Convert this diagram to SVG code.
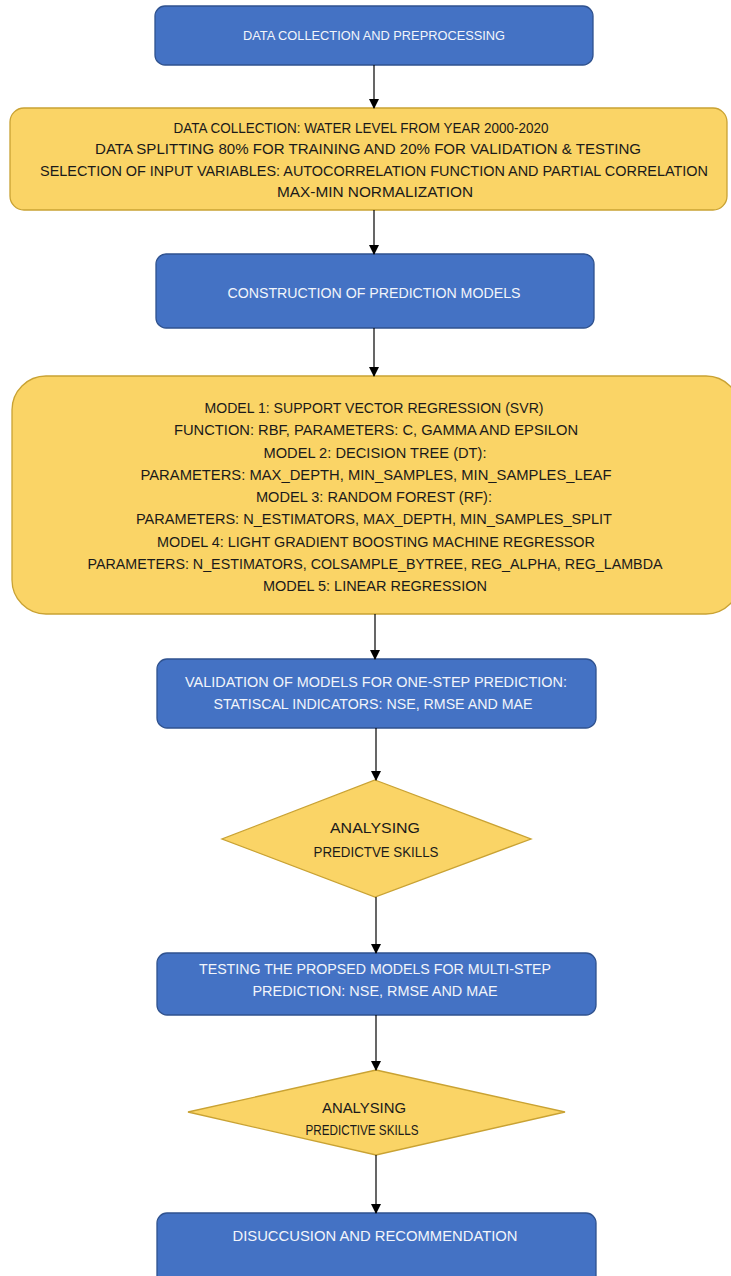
<svg xmlns="http://www.w3.org/2000/svg" width="731" height="1276" viewBox="0 0 731 1276">
<defs>
<marker id="ah" markerWidth="10" markerHeight="10" refX="9" refY="5" orient="auto" markerUnits="userSpaceOnUse">
<path d="M0,0 L10,5 L0,10 Z" fill="#000"/>
</marker>
<style>
.blue{fill:#4472C4;stroke:#2F528F;stroke-width:1.3}
.yel{fill:#FAD466;stroke:#C9A233;stroke-width:1.3}
.tw{font-family:"Liberation Sans",Arial,sans-serif;fill:#F2F5FB;text-anchor:middle;dominant-baseline:central}
.tb{font-family:"Liberation Sans",Arial,sans-serif;fill:#1a1a1a;text-anchor:middle;dominant-baseline:central}
.conn line{stroke:#000;stroke-width:1.2;marker-end:url(#ah)}
</style>
</defs>
<rect width="731" height="1276" fill="#fff"/>

<g id="n1">
<rect class="blue" x="155" y="6" width="438" height="59" rx="10"/>
<text class="tw" x="374" y="36" font-size="12.5" textLength="262" lengthAdjust="spacingAndGlyphs">DATA COLLECTION AND PREPROCESSING</text>
</g>

<g id="n2">
<rect class="yel" x="10" y="108" width="717" height="102" rx="14"/>
<text class="tb" x="361" y="128" font-size="14.5" textLength="375" lengthAdjust="spacingAndGlyphs">DATA COLLECTION: WATER LEVEL FROM YEAR 2000-2020</text>
<text class="tb" x="368" y="149" font-size="14.5" textLength="546" lengthAdjust="spacingAndGlyphs">DATA SPLITTING 80% FOR TRAINING AND 20% FOR VALIDATION &amp; TESTING</text>
<text class="tb" x="374" y="171" font-size="14.5" textLength="668" lengthAdjust="spacingAndGlyphs">SELECTION OF INPUT VARIABLES: AUTOCORRELATION FUNCTION AND PARTIAL CORRELATION</text>
<text class="tb" x="375" y="192" font-size="14.5" textLength="196" lengthAdjust="spacingAndGlyphs">MAX-MIN NORMALIZATION</text>
</g>

<g id="n3">
<rect class="blue" x="156" y="254" width="438" height="74" rx="10"/>
<text class="tw" x="374" y="293" font-size="14" textLength="293" lengthAdjust="spacingAndGlyphs">CONSTRUCTION OF PREDICTION MODELS</text>
</g>

<g id="n4">
<rect class="yel" x="12" y="376" width="728" height="238" rx="34"/>
<text class="tb" x="374" y="408" font-size="14.5" textLength="339" lengthAdjust="spacingAndGlyphs">MODEL 1: SUPPORT VECTOR REGRESSION (SVR)</text>
<text class="tb" x="376" y="430" font-size="14.5" textLength="404" lengthAdjust="spacingAndGlyphs">FUNCTION: RBF, PARAMETERS: C, GAMMA AND EPSILON</text>
<text class="tb" x="375" y="453" font-size="14.5" textLength="223" lengthAdjust="spacingAndGlyphs">MODEL 2: DECISION TREE (DT):</text>
<text class="tb" x="376" y="475" font-size="14.5" textLength="471" lengthAdjust="spacingAndGlyphs">PARAMETERS: MAX_DEPTH, MIN_SAMPLES, MIN_SAMPLES_LEAF</text>
<text class="tb" x="374" y="497" font-size="14.5" textLength="236" lengthAdjust="spacingAndGlyphs">MODEL 3: RANDOM FOREST (RF):</text>
<text class="tb" x="374" y="519" font-size="14.5" textLength="476" lengthAdjust="spacingAndGlyphs">PARAMETERS: N_ESTIMATORS, MAX_DEPTH, MIN_SAMPLES_SPLIT</text>
<text class="tb" x="376" y="542" font-size="14.5" textLength="438" lengthAdjust="spacingAndGlyphs">MODEL 4: LIGHT GRADIENT BOOSTING MACHINE REGRESSOR</text>
<text class="tb" x="375" y="564" font-size="14.5" textLength="575" lengthAdjust="spacingAndGlyphs">PARAMETERS: N_ESTIMATORS, COLSAMPLE_BYTREE, REG_ALPHA, REG_LAMBDA</text>
<text class="tb" x="375" y="586" font-size="14.5" textLength="224" lengthAdjust="spacingAndGlyphs">MODEL 5: LINEAR REGRESSION</text>
</g>

<g id="n5">
<rect class="blue" x="157" y="659" width="439" height="69" rx="10"/>
<text class="tw" x="376" y="681" font-size="15" textLength="382" lengthAdjust="spacingAndGlyphs">VALIDATION OF MODELS FOR ONE-STEP PREDICTION:</text>
<text class="tw" x="373" y="703" font-size="15" textLength="319" lengthAdjust="spacingAndGlyphs">STATISCAL INDICATORS: NSE, RMSE AND MAE</text>
</g>

<g id="n6">
<polygon class="yel" points="375,780 531,839 375,897 222,839"/>
<text class="tb" x="375" y="827" font-size="15" textLength="90" lengthAdjust="spacingAndGlyphs">ANALYSING</text>
<text class="tb" x="376" y="851" font-size="15" textLength="125" lengthAdjust="spacingAndGlyphs">PREDICTVE SKILLS</text>
</g>

<g id="n7">
<rect class="blue" x="157" y="953" width="439" height="62" rx="10"/>
<text class="tw" x="375" y="968" font-size="15" textLength="352" lengthAdjust="spacingAndGlyphs">TESTING THE PROPSED MODELS FOR MULTI-STEP</text>
<text class="tw" x="375" y="990" font-size="15" textLength="245" lengthAdjust="spacingAndGlyphs">PREDICTION: NSE, RMSE AND MAE</text>
</g>

<g id="n8">
<polygon class="yel" points="376,1070 565,1112 376,1155 188,1112"/>
<text class="tb" x="364" y="1108" font-size="14.5" textLength="84" lengthAdjust="spacingAndGlyphs">ANALYSING</text>
<text class="tb" x="362" y="1130" font-size="14.5" textLength="113" lengthAdjust="spacingAndGlyphs">PREDICTIVE SKILLS</text>
</g>

<g id="n9">
<rect class="blue" x="157" y="1213" width="439" height="75" rx="10"/>
<text class="tw" x="375" y="1235" font-size="15" textLength="285" lengthAdjust="spacingAndGlyphs">DISUCCUSION AND RECOMMENDATION</text>
</g>

<g class="conn" id="connectors">
<line x1="374" y1="65" x2="374" y2="108"/>
<line x1="374" y1="210" x2="374" y2="254"/>
<line x1="374" y1="328" x2="374" y2="376"/>
<line x1="375" y1="614" x2="375" y2="659"/>
<line x1="376" y1="728" x2="376" y2="780"/>
<line x1="376" y1="897" x2="376" y2="953"/>
<line x1="376" y1="1015" x2="376" y2="1070"/>
<line x1="376" y1="1155" x2="376" y2="1213"/>
</g>
</svg>
